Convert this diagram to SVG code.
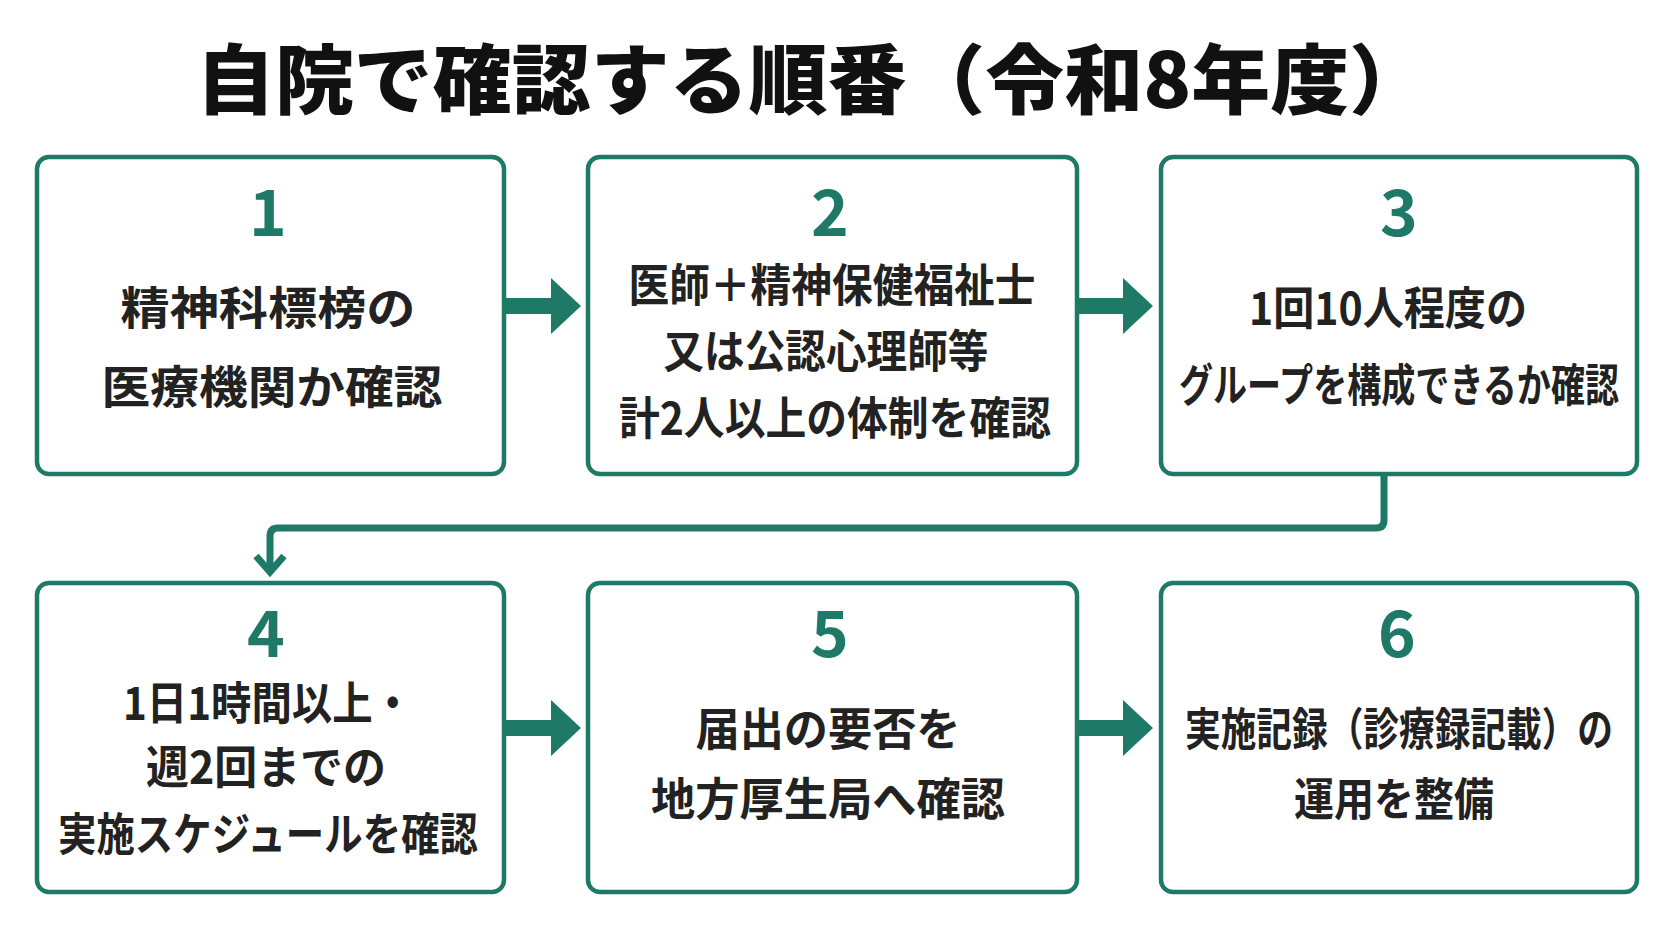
<svg xmlns="http://www.w3.org/2000/svg" width="1672" height="941" viewBox="0 0 1672 941">
<defs>
<style>
.box{fill:#fff;stroke:#1e7a66;stroke-width:4.5}
.num{font-family:"Noto Sans CJK JP","Noto Sans",sans-serif;font-weight:700;font-size:64px;fill:#1e7a66;text-anchor:middle}
.t{font-family:"Noto Sans CJK JP",sans-serif;font-weight:700;font-size:45px;fill:#222;text-anchor:middle}
.title{font-family:"Noto Sans CJK JP",sans-serif;font-weight:900;font-size:76px;fill:#111;text-anchor:middle}
.fat{fill:#1e7a66}
</style>
</defs>
<rect width="1672" height="941" fill="#fff"/>
<text class="title" x="812" y="108" textLength="1232" lengthAdjust="spacingAndGlyphs">自院で確認する順番（令和8年度）</text>
<g id="connectors">
<path class="fat" d="M506,298 H551 V278 L581,306 L551,334 V314 H506 Z"/>
<path class="fat" d="M1079,298 H1123 V278 L1153,306 L1123,334 V314 H1079 Z"/>
<path class="fat" d="M506,720 H551 V700 L581,728 L551,756 V736 H506 Z"/>
<path class="fat" d="M1079,720 H1123 V700 L1153,728 L1123,756 V736 H1079 Z"/>
<path d="M1384,476 V520 Q1384,528 1376,528 H278 Q270,528 270,536 V570" fill="none" stroke="#1e7a66" stroke-width="7"/>
<path d="M256,556 L270,572 L284,556" fill="none" stroke="#1e7a66" stroke-width="7"/>
</g>
<g id="n1"><rect class="box" x="37" y="157" width="467" height="317" rx="12"/>
<text class="num" x="268" y="236">1</text>
<text class="t" x="268" y="325" textLength="295" lengthAdjust="spacingAndGlyphs">精神科標榜の</text><text class="t" x="272" y="404" textLength="341" lengthAdjust="spacingAndGlyphs">医療機関か確認</text></g>
<g id="n2"><rect class="box" x="588" y="157" width="489" height="317" rx="12"/>
<text class="num" x="830" y="236">2</text>
<text class="t" x="832" y="302" textLength="407" lengthAdjust="spacingAndGlyphs">医師＋精神保健福祉士</text><text class="t" x="826" y="368" textLength="325" lengthAdjust="spacingAndGlyphs">又は公認心理師等</text><text class="t" x="835" y="435" textLength="432" lengthAdjust="spacingAndGlyphs">計2人以上の体制を確認</text></g>
<g id="n3"><rect class="box" x="1161" y="157" width="476" height="317" rx="12"/>
<text class="num" x="1399" y="236">3</text>
<text class="t" x="1388" y="325" textLength="278" lengthAdjust="spacingAndGlyphs">1回10人程度の</text><text class="t" x="1399" y="402" textLength="440" lengthAdjust="spacingAndGlyphs">グループを構成できるか確認</text></g>
<g id="n4"><rect class="box" x="37" y="583" width="467" height="309" rx="12"/>
<text class="num" x="266" y="657">4</text>
<text class="t" x="268" y="720" textLength="290" lengthAdjust="spacingAndGlyphs">1日1時間以上・</text><text class="t" x="266" y="784" textLength="240" lengthAdjust="spacingAndGlyphs">週2回までの</text><text class="t" x="268" y="851" textLength="420" lengthAdjust="spacingAndGlyphs">実施スケジュールを確認</text></g>
<g id="n5"><rect class="box" x="588" y="583" width="489" height="309" rx="12"/>
<text class="num" x="830" y="657">5</text>
<text class="t" x="828" y="746" textLength="265" lengthAdjust="spacingAndGlyphs">届出の要否を</text><text class="t" x="828" y="816" textLength="354" lengthAdjust="spacingAndGlyphs">地方厚生局へ確認</text></g>
<g id="n6"><rect class="box" x="1161" y="583" width="476" height="309" rx="12"/>
<text class="num" x="1397" y="657">6</text>
<text class="t" x="1399" y="746" textLength="428" lengthAdjust="spacingAndGlyphs">実施記録（診療録記載）の</text><text class="t" x="1394" y="816" textLength="200" lengthAdjust="spacingAndGlyphs">運用を整備</text></g>
</svg>
